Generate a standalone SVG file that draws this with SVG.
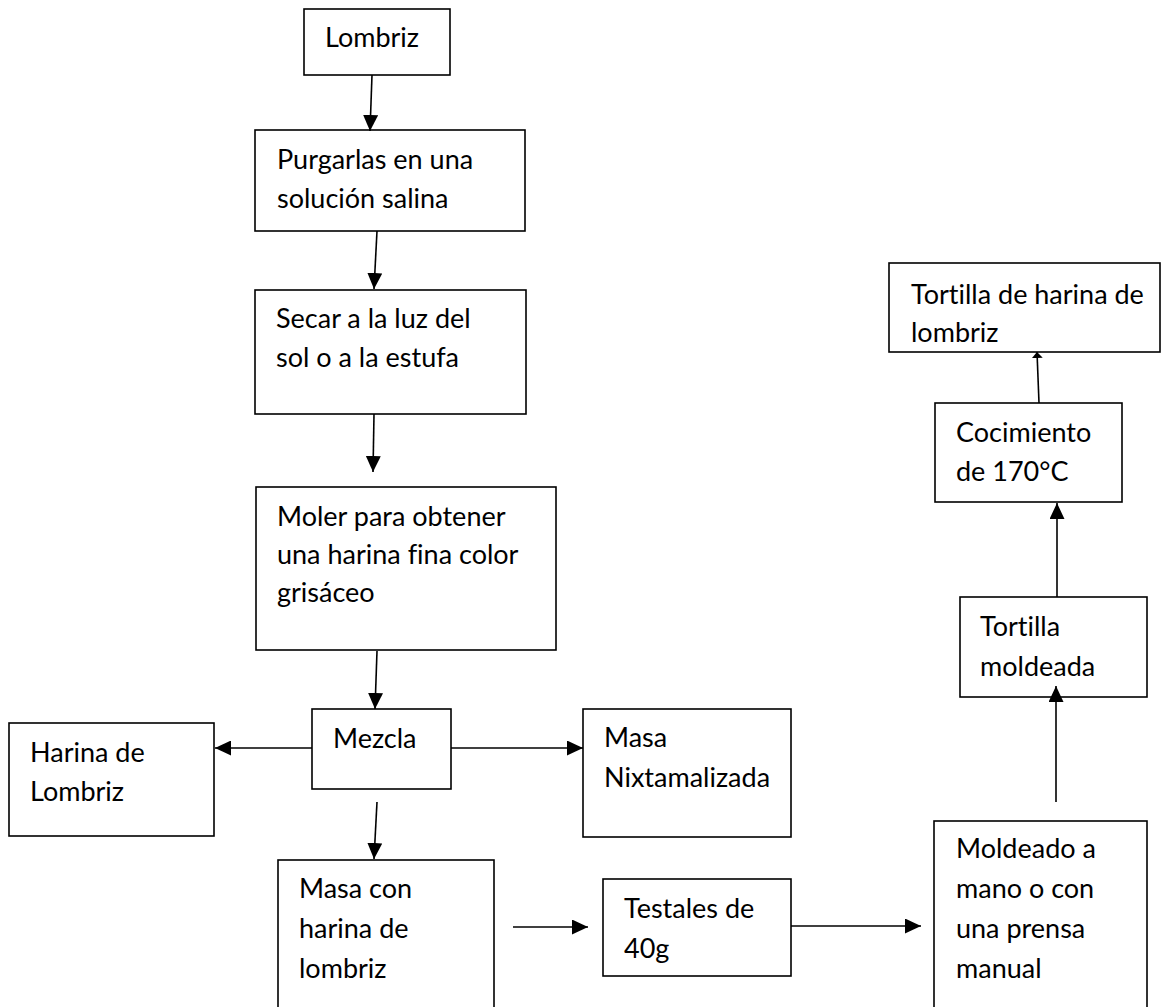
<svg xmlns="http://www.w3.org/2000/svg" width="1165" height="1007" viewBox="0 0 1165 1007">
<style>
.box{fill:#fff;stroke:#000;stroke-width:1.6}
.t{font-family:Lato,"Liberation Sans",sans-serif;font-size:27px;fill:#000;font-variant-ligatures:none}
.c{stroke:#000;stroke-width:1.6;fill:none}
</style>
<defs>
<marker id="ah" markerUnits="userSpaceOnUse" markerWidth="16" markerHeight="15" viewBox="0 0 16 15" refX="16" refY="7.5" orient="auto">
<path d="M0,0 L16,7.5 L0,15 Z" fill="#000"/>
</marker>
<marker id="ahs" markerUnits="userSpaceOnUse" markerWidth="6" markerHeight="11" viewBox="0 0 6 11" refX="6" refY="5.5" orient="auto">
<path d="M0,0 L6,5.5 L0,11 Z" fill="#000"/>
</marker>
</defs>
<rect width="1165" height="1007" fill="#fff"/>
<g id="n-lombriz"><rect class="box" x="304" y="9" width="146" height="66"/><text class="t" x="325" y="47">Lombriz</text></g>
<g id="n-purgar"><rect class="box" x="255" y="130" width="270" height="101"/><text class="t" x="277" y="169">Purgarlas en una</text><text class="t" x="277" y="208">solución salina</text></g>
<g id="n-secar"><rect class="box" x="255" y="290" width="271" height="124"/><text class="t" x="276" y="328">Secar a la luz del</text><text class="t" x="276" y="367">sol o a la estufa</text></g>
<g id="n-moler"><rect class="box" x="256" y="487" width="300" height="163"/><text class="t" x="277" y="526">Moler para obtener</text><text class="t" x="277" y="564">una harina fina color</text><text class="t" x="277" y="602">grisáceo</text></g>
<g id="n-mezcla"><rect class="box" x="312" y="709" width="139" height="80"/><text class="t" x="333" y="748">Mezcla</text></g>
<g id="n-harina"><rect class="box" x="9" y="723" width="205" height="113"/><text class="t" x="30" y="762">Harina de</text><text class="t" x="30" y="801">Lombriz</text></g>
<g id="n-nix"><rect class="box" x="583" y="709" width="208" height="128"/><text class="t" x="604" y="747">Masa</text><text class="t" x="604" y="787">Nixtamalizada</text></g>
<g id="n-masacon"><rect class="box" x="278" y="860" width="216" height="170"/><text class="t" x="299" y="898">Masa con</text><text class="t" x="299" y="938">harina de</text><text class="t" x="299" y="978">lombriz</text></g>
<g id="n-testales"><rect class="box" x="603" y="879" width="188" height="97"/><text class="t" x="624" y="918">Testales de</text><text class="t" x="624" y="958">40g</text></g>
<g id="n-moldeado"><rect class="box" x="934" y="821" width="213" height="210"/><text class="t" x="956" y="858">Moldeado a</text><text class="t" x="956" y="898">mano o con</text><text class="t" x="956" y="938">una prensa</text><text class="t" x="956" y="978">manual</text></g>
<g id="n-tmoldeada"><rect class="box" x="960" y="597" width="187" height="100"/><text class="t" x="980" y="636">Tortilla</text><text class="t" x="980" y="676">moldeada</text></g>
<g id="n-cocimiento"><rect class="box" x="935" y="403" width="187" height="99"/><text class="t" x="956" y="442">Cocimiento</text><text class="t" x="956" y="481">de 170°C</text></g>
<g id="n-tortilla"><rect class="box" x="889" y="263" width="271" height="89"/><text class="t" x="911" y="304">Tortilla de harina de</text><text class="t" x="911" y="342">lombriz</text></g>
<g id="connectors">
<line class="c" x1="372" y1="75" x2="370" y2="131" marker-end="url(#ah)"/>
<line class="c" x1="377" y1="231" x2="374" y2="289" marker-end="url(#ah)"/>
<line class="c" x1="374" y1="414" x2="373" y2="472" marker-end="url(#ah)"/>
<line class="c" x1="377" y1="651" x2="375" y2="709" marker-end="url(#ah)"/>
<line class="c" x1="312" y1="748" x2="215" y2="748" marker-end="url(#ah)"/>
<line class="c" x1="451" y1="748" x2="583" y2="748" marker-end="url(#ah)"/>
<line class="c" x1="377" y1="802" x2="374" y2="859" marker-end="url(#ah)"/>
<line class="c" x1="513" y1="927" x2="588" y2="927" marker-end="url(#ah)"/>
<line class="c" x1="791" y1="926" x2="921" y2="926" marker-end="url(#ah)"/>
<line class="c" x1="1056" y1="802" x2="1056" y2="686" marker-end="url(#ah)"/>
<line class="c" x1="1057" y1="597" x2="1057" y2="503" marker-end="url(#ah)"/>
<line class="c" x1="1039" y1="403" x2="1037" y2="352" marker-end="url(#ahs)"/>
</g>
</svg>
